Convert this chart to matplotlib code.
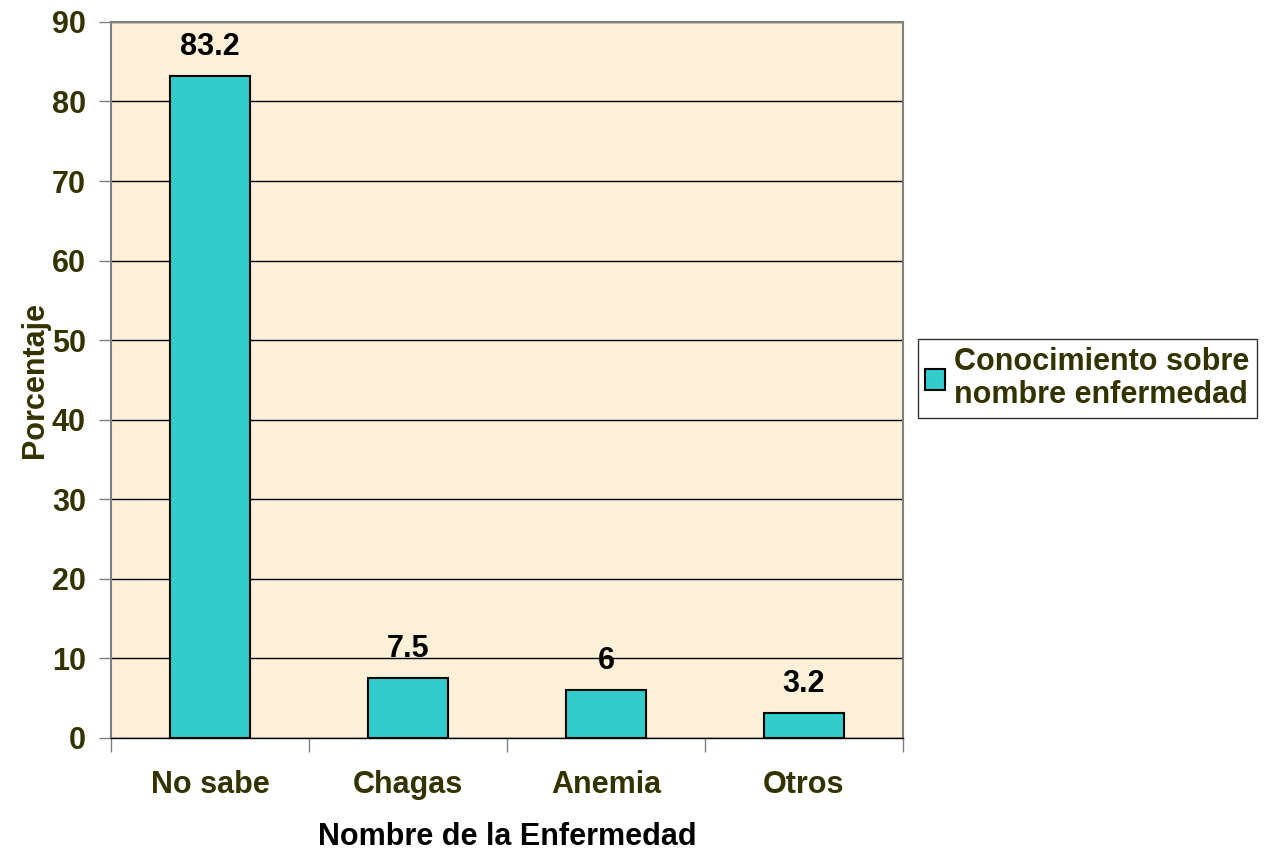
import numpy as np
import matplotlib.pyplot as plt
from matplotlib.patches import Patch

categorias = ['No sabe', 'Chagas', 'Anemia', 'Otros']
porcentajes = [83.2, 7.5, 6, 3.2]
etiquetas = ['83.2', '7.5', '6', '3.2']
yticks = [0, 10, 20, 30, 40, 50, 60, 70, 80, 90]
serie = 'Conocimiento sobre\nnombre enfermedad'

plt.rcParams['font.family'] = ['Liberation Sans', 'DejaVu Sans']
olive = '#333300'
fs = 22

fig = plt.figure(figsize=(12.64, 8.5), dpi=100)
ax = fig.add_axes([0.0878, 0.1318, 0.6266, 0.8424])
ax.set_facecolor('#FCF0D9')

x = np.arange(len(categorias))
bars = ax.bar(x, porcentajes, width=0.4, color='#33CCCC', edgecolor='black',
              linewidth=1.5, zorder=3)

for b, txt in zip(bars, etiquetas):
    ax.annotate(txt, (b.get_x() + b.get_width() / 2, b.get_height()),
                xytext=(0, 10), textcoords='offset points', ha='center',
                va='bottom', fontsize=fs, fontweight='bold', color='black')

ax.set_xlim(-0.5, len(categorias) - 0.5)
ax.set_ylim(0, 90)
ax.set_yticks(yticks)
ax.yaxis.grid(True, color='black', linewidth=1, zorder=0)
ax.set_axisbelow(True)

# category ticks sit on the boundaries, labels in the middle
ax.set_xticks(np.arange(len(categorias) + 1) - 0.5)
ax.set_xticklabels([])
ax.set_xticks(x, minor=True)
ax.set_xticklabels(categorias, minor=True)
ax.tick_params(axis='x', which='major', length=10, color='#808080', width=1)
ax.tick_params(axis='x', which='minor', length=0, pad=23,
               labelsize=fs, labelcolor=olive)
ax.tick_params(axis='y', length=9, color='#808080', width=1, pad=9,
               labelsize=fs, labelcolor=olive)
for lab in ax.get_xticklabels(minor=True) + ax.get_yticklabels():
    lab.set_fontweight('bold')

for s in ['left', 'top', 'right']:
    ax.spines[s].set_color('#808080')
    ax.spines[s].set_linewidth(1.5)
ax.spines['bottom'].set_color('black')
ax.spines['bottom'].set_linewidth(1)

ax.set_ylabel('Porcentaje', fontsize=fs, fontweight='bold', color=olive,
              labelpad=1)
ax.set_xlabel('Nombre de la Enfermedad', fontsize=fs, fontweight='bold',
              color='black', labelpad=16)

h = [Patch(facecolor='#33CCCC', edgecolor='black', linewidth=1.5)]
leg = fig.legend(h, [serie], loc='center left', bbox_to_anchor=(0.726, 0.5545),
                 prop={'weight': 'bold', 'size': fs},
                 frameon=True, fancybox=False, handlelength=0.65,
                 handleheight=0.65, handletextpad=0.3, borderpad=0.25,
                 borderaxespad=0, labelspacing=0.2)
leg.get_frame().set_edgecolor('black')
leg.get_frame().set_linewidth(1)
for t in leg.get_texts():
    t.set_color(olive)
    t.set_linespacing(1.15)

fig.savefig('out.png', dpi=100)
